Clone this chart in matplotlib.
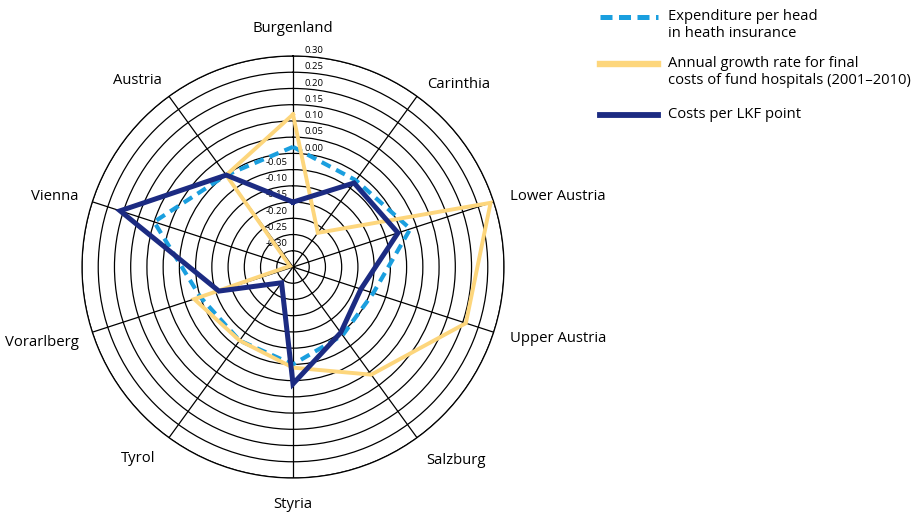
import numpy as np
import matplotlib
matplotlib.use("Agg")
import matplotlib.pyplot as plt
from matplotlib.lines import Line2D

plt.rcParams["font.family"] = ["Open Sans", "DejaVu Sans"]

# regions clockwise from the top
regions = ["Burgenland", "Carinthia", "Lower Austria", "Upper Austria", "Salzburg",
           "Styria", "Tyrol", "Vorarlberg", "Vienna", "Austria"]
expenditure = [0.02, -0.02, 0.03, -0.09, -0.09, -0.05, -0.07, -0.05, 0.10, 0.00]
growth = [0.12, -0.22, 0.29, 0.21, 0.06, -0.04, -0.07, -0.03, -0.34, 0.00]
lkf_cost = [-0.15, -0.03, -0.01, -0.13, -0.10, 0.01, -0.29, -0.11, 0.21, 0.00]
r_ticks = [-0.30, -0.25, -0.20, -0.15, -0.10, -0.05, 0.00, 0.05, 0.10, 0.15, 0.20, 0.25, 0.30]
r_min, r_max = -0.35, 0.30

legend_labels = ["Expenditure per head\nin heath insurance",
                 "Annual growth rate for final\ncosts of fund hospitals (2001\u20132010)",
                 "Costs per LKF point"]

c_dash = "#1a9fdf"
c_yellow = "#fdd67c"
c_dark = "#1c2b82"

W, H = 916, 513
fig = plt.figure(figsize=(W / 100, H / 100), dpi=100)
cx, cy, rad = 293, 267, 211
ax = fig.add_axes([(cx - rad) / W, (H - cy - rad) / H, 2 * rad / W, 2 * rad / H],
                  projection="polar")
ax.set_theta_zero_location("N")
ax.set_theta_direction(-1)
ax.set_ylim(r_min, r_max)

n = len(regions)
theta = np.arange(n) * 2 * np.pi / n
th = np.append(theta, theta[0])

ax.set_thetagrids(np.degrees(theta), labels=[""] * n)
ax.set_rgrids(r_ticks, labels=[""] * len(r_ticks))
ax.grid(True, color="black", linewidth=0.9)
ax.spines["polar"].set_color("black")
ax.spines["polar"].set_linewidth(0.9)
ax.tick_params(length=0)

def closed(v):
    return np.append(v, v[0])

ax.plot(th, closed(expenditure), color=c_dash, lw=3.0, ls=(0, (2.4, 1.5)), zorder=4)
ax.plot(th, closed(growth), color=c_yellow, lw=2.8, zorder=5, solid_joinstyle="miter")
ax.plot(th, closed(lkf_cost), color=c_dark, lw=3.6, zorder=6, solid_joinstyle="miter")

# radial value labels along the top spoke
for v in r_ticks:
    if v >= 0:
        ax.annotate(f"{v:.2f}", xy=(0, v), xytext=(8.6, 3.8), textcoords="offset points",
                    ha="left", va="center", fontsize=6.8, zorder=3)
    else:
        ax.annotate(f"{v:.2f}", xy=(0, v), xytext=(-3.6, 5.2), textcoords="offset points",
                    ha="right", va="center", fontsize=6.8, zorder=3)

# category label anchors, pixel offsets from the centre (x right, y down) and alignment
label_pos = [(0, -239, "center"), (166, -183, "center"), (217, -70, "left"),
             (217, 72, "left"), (163, 194, "center"), (0, 238, "center"),
             (-155, 191, "center"), (-214, 76, "right"), (-215, -70, "right"),
             (-156, -186, "center")]
for name, (dx, dy, ha) in zip(regions, label_pos):
    ax.annotate(name, xy=(0, r_min), xytext=(dx * 0.72, -dy * 0.72),
                textcoords="offset points", ha=ha, va="center", fontsize=10.7,
                annotation_clip=False)

# legend
handles = [dict(color=c_dash, lw=3.6, ls=(0, (2.4, 1.3))),
           dict(color=c_yellow, lw=4.6, ls="-"),
           dict(color=c_dark, lw=4.2, ls="-")]
ys = [17, 64, 115]
for y, style, lab in zip(ys, handles, legend_labels):
    yf = 1 - y / H
    fig.add_artist(Line2D([600 / W, 658 / W], [yf, yf], transform=fig.transFigure, **style))
    fig.text(668 / W, 1 - (y - 8) / H, lab, ha="left", va="top", fontsize=10.6,
             linespacing=1.2)

fig.savefig("out.png", dpi=100)
